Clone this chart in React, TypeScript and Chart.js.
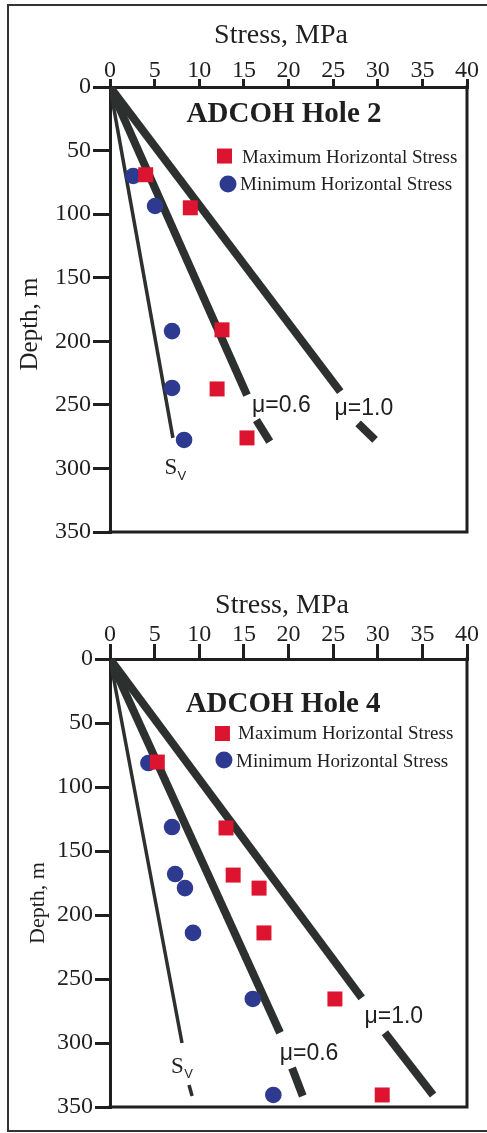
import React, { useEffect, useRef } from "react";
import { Chart, registerables } from "chart.js";

Chart.register(...registerables);

// [stress in MPa, depth in m]
type Pt = [number, number];

const stressTicks = [0, 5, 10, 15, 20, 25, 30, 35, 40];
const depthTicks = [0, 50, 100, 150, 200, 250, 300, 350];

// ADCOH Hole 2
const hole2MaxStress: Pt[] = [[4.0, 69], [9.0, 95], [12.55, 191], [12.0, 237.5], [15.35, 276]];
const hole2MinStress: Pt[] = [[2.6, 70], [5.05, 93.6], [6.95, 192], [6.95, 236.7], [8.3, 277.6]];
// gradient lines, broken where their labels sit
const hole2Sv: Pt[][] = [[[0, 0], [7.05, 276]]];
const hole2Mu06: Pt[][] = [[[0, 0], [15.35, 242.3]], [[16.4, 262], [17.9, 279]]];
const hole2Mu10: Pt[][] = [[[0, 0], [25.8, 239.6]], [[27.8, 264.5], [29.7, 277.6]]];

// ADCOH Hole 4
const hole4MaxStress: Pt[] = [[5.3, 80.5], [13.0, 132], [13.8, 168.8], [16.7, 179], [17.25, 214], [25.2, 265.6], [30.5, 340.6]];
const hole4MinStress: Pt[] = [[4.3, 81.3], [6.95, 131.3], [7.3, 168], [8.4, 179], [9.3, 214], [16.0, 265.6], [18.3, 340.6]];
const hole4Sv: Pt[][] = [[[0, 0], [8.07, 300]], [[8.85, 332.8], [9.2, 341.4]]];
const hole4Mu06: Pt[][] = [[[0, 0], [19.05, 292]], [[20.4, 319.5], [21.6, 341.4]]];
const hole4Mu10: Pt[][] = [[[0, 0], [28.2, 264.8]], [[30.8, 292], [36.2, 340.6]]];

const INK = "#1f1f1f";
const LINE_INK = "#2c302e";
const RED = "#dc1430";
const BLUE = "#2d3a8f";
const SERIF = '"Liberation Serif", "Times New Roman", serif';
const SANS = '"Liberation Sans", Arial, sans-serif';

interface PanelSpec {
  title: string;
  maxStress: Pt[];
  minStress: Pt[];
  sv: Pt[][];
  mu06: Pt[][];
  mu10: Pt[][];
  top: number;
  height: number;
  xAxisHeight: number;
  bottomPad: number;
  xTickLen: number;
  xTickPad: number;
  yTickLen: number;
  decor: any;
}

const panels: PanelSpec[] = [
  {
    title: "ADCOH Hole 2",
    maxStress: hole2MaxStress,
    minStress: hole2MinStress,
    sv: hole2Sv,
    mu06: hole2Mu06,
    mu10: hole2Mu10,
    top: 0,
    height: 560,
    xAxisHeight: 87,
    bottomPad: 28,
    xTickLen: 8,
    xTickPad: -4,
    yTickLen: 17,
    decor: {
      title: "ADCOH Hole 2",
      titleAt: [19.5, 27.5],
      maxKey: [12.83, 54.3],
      maxText: [14.79, 59.8],
      minKey: [13.22, 76.3],
      minText: [14.57, 81],
      mu06At: [19.2, 255.6],
      mu10At: [28.45, 258],
      svAt: [6.83, 299.7],
      xTitle: [281, 43, 28],
      yTitle: [30, 324, 25],
    },
  },
  {
    title: "ADCOH Hole 4",
    maxStress: hole4MaxStress,
    minStress: hole4MinStress,
    sv: hole4Sv,
    mu06: hole4Mu06,
    mu10: hole4Mu10,
    top: 560,
    height: 573,
    xAxisHeight: 99,
    bottomPad: 26,
    xTickLen: 15,
    xTickPad: -3,
    yTickLen: 15,
    decor: {
      title: "ADCOH Hole 4",
      titleAt: [19.4, 41.4],
      maxKey: [12.6, 58.2],
      maxText: [14.34, 62.5],
      minKey: [12.77, 78.9],
      minText: [14.12, 84.4],
      mu06At: [22.3, 313.3],
      mu10At: [31.8, 284.4],
      svAt: [7.56, 318.4],
      xTitle: [282, 53, 28],
      yTitle: [38, 343, 22],
    },
  },
];

const toXY = (pts: Pt[]) => pts.map(([x, y]) => ({ x, y }));

// Draws the closing frame edges, heading, legend and line labels
const panelDecor = {
  id: "panelDecor",
  afterDraw(chart: any, _args: unknown, o: any) {
    const { ctx, chartArea: a } = chart;
    const sx = chart.scales.x;
    const sy = chart.scales.y;
    const px = (v: number) => sx.getPixelForValue(v);
    const py = (d: number) => sy.getPixelForValue(d);
    ctx.save();

    ctx.strokeStyle = INK;
    ctx.lineWidth = 3;
    ctx.beginPath();
    ctx.moveTo(a.right, a.top - 1.5);
    ctx.lineTo(a.right, a.bottom);
    ctx.lineTo(a.left - 1.5, a.bottom);
    ctx.stroke();

    ctx.fillStyle = INK;
    ctx.textBaseline = "alphabetic";

    // heading
    ctx.font = `bold 29px ${SERIF}`;
    ctx.textAlign = "center";
    ctx.fillText(o.title, px(o.titleAt[0]), py(o.titleAt[1]));

    // legend
    ctx.fillStyle = RED;
    const kx = px(o.maxKey[0]);
    const ky = py(o.maxKey[1]);
    ctx.fillRect(kx - 7.5, ky - 7.5, 15, 15);
    ctx.fillStyle = BLUE;
    ctx.beginPath();
    ctx.arc(px(o.minKey[0]), py(o.minKey[1]), 8.5, 0, Math.PI * 2);
    ctx.fill();
    ctx.fillStyle = INK;
    ctx.font = `19px ${SERIF}`;
    ctx.textAlign = "left";
    ctx.fillText("Maximum Horizontal Stress", px(o.maxText[0]), py(o.maxText[1]));
    ctx.fillText("Minimum Horizontal Stress", px(o.minText[0]), py(o.minText[1]));

    // line labels
    ctx.font = `23px ${SANS}`;
    ctx.textAlign = "center";
    ctx.fillText("\u03bc=0.6", px(o.mu06At[0]), py(o.mu06At[1]));
    ctx.fillText("\u03bc=1.0", px(o.mu10At[0]), py(o.mu10At[1]));

    ctx.textBaseline = "middle";
    ctx.font = `23px ${SERIF}`;
    const svx = px(o.svAt[0]);
    const svy = py(o.svAt[1]);
    ctx.fillText("S", svx, svy);
    ctx.font = `13px ${SANS}`;
    ctx.fillText("V", svx + 11, svy + 8);

    // axis titles
    ctx.font = `${o.xTitle[2]}px ${SERIF}`;
    ctx.textBaseline = "alphabetic";
    ctx.fillText("Stress, MPa", o.xTitle[0], o.xTitle[1]);
    ctx.translate(o.yTitle[0], o.yTitle[1]);
    ctx.rotate(-Math.PI / 2);
    ctx.textBaseline = "middle";
    ctx.font = `${o.yTitle[2]}px ${SERIF}`;
    ctx.fillText("Depth, m", 0, 0);

    ctx.restore();
  },
};

function lineSets(segments: Pt[][], width: number) {
  return segments.map((seg) => ({
    data: toXY(seg),
    showLine: true,
    borderColor: LINE_INK,
    borderWidth: width,
    pointRadius: 0,
    fill: false,
    borderCapStyle: "butt" as const,
  }));
}

function StressPanel({ spec }: { spec: PanelSpec }) {
  const ref = useRef<HTMLCanvasElement | null>(null);

  useEffect(() => {
    if (!ref.current) return;
    const chart = new Chart(ref.current, {
      type: "scatter",
      data: {
        datasets: [
          {
            label: "Maximum Horizontal Stress",
            data: toXY(spec.maxStress),
            pointStyle: "rect",
            pointRadius: 10.6,
            backgroundColor: RED,
            borderWidth: 0,
          },
          {
            label: "Minimum Horizontal Stress",
            data: toXY(spec.minStress),
            pointStyle: "circle",
            pointRadius: 8.3,
            backgroundColor: BLUE,
            borderWidth: 0,
          },
          ...lineSets(spec.sv, 3.5),
          ...lineSets(spec.mu06, 8),
          ...lineSets(spec.mu10, 8),
        ] as any,
      },
      options: {
        responsive: false,
        animation: false,
        events: [],
        layout: { padding: { top: 0, left: 0, right: 20, bottom: spec.bottomPad } },
        plugins: {
          legend: { display: false },
          tooltip: { enabled: false },
          panelDecor: spec.decor,
        } as any,
        scales: {
          x: {
            type: "linear",
            position: "top",
            min: stressTicks[0],
            max: stressTicks[stressTicks.length - 1],
            afterBuildTicks: (s: any) => {
              s.ticks = stressTicks.map((v) => ({ value: v }));
            },
            afterFit: (s: any) => {
              s.height = spec.xAxisHeight;
            },
            border: { display: true, width: 3, color: INK },
            grid: {
              drawOnChartArea: false,
              drawTicks: true,
              tickLength: spec.xTickLen,
              lineWidth: 3,
              color: INK,
            },
            ticks: {
              padding: spec.xTickPad,
              color: INK,
              maxRotation: 0,
              font: { family: SERIF, size: 24, lineHeight: 1 },
            },
          },
          y: {
            type: "linear",
            reverse: true,
            min: depthTicks[0],
            max: depthTicks[depthTicks.length - 1],
            afterBuildTicks: (s: any) => {
              s.ticks = depthTicks.map((v) => ({ value: v }));
            },
            afterFit: (s: any) => {
              s.width = 110;
            },
            border: { display: true, width: 3, color: INK },
            grid: {
              drawOnChartArea: false,
              drawTicks: true,
              tickLength: spec.yTickLen,
              lineWidth: 3,
              color: INK,
            },
            ticks: {
              padding: 2,
              color: INK,
              font: { family: SERIF, size: 24, lineHeight: 1 },
            },
          },
        },
      } as any,
      plugins: [panelDecor],
    });
    return () => chart.destroy();
  }, [spec]);

  return (
    <canvas
      ref={ref}
      width={487}
      height={spec.height}
      style={{ position: "absolute", left: 0, top: spec.top, width: 487, height: spec.height }}
    />
  );
}

export default function App() {
  return (
    <div
      style={{
        position: "absolute",
        left: 0,
        top: 0,
        width: 487,
        height: 1133,
        overflow: "hidden",
        background: "#ffffff",
      }}
    >
      <div
        style={{
          position: "absolute",
          left: 7,
          top: 4,
          width: 500,
          height: 1128,
          boxSizing: "border-box",
          borderLeft: "2px solid #333",
          borderTop: "2px solid #333",
          borderBottom: "2px solid #333",
        }}
      />
      {panels.map((p) => (
        <StressPanel key={p.title} spec={p} />
      ))}
    </div>
  );
}
